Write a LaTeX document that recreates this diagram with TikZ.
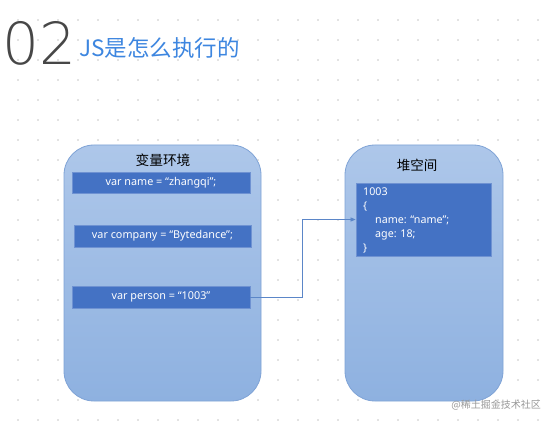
\documentclass[tikz,border=0pt]{standalone}
\usepackage{fontspec}
\setmainfont{Noto Sans CJK SC}
\newfontfamily\latinfont{Noto Sans}
\newfontfamily\thinfont{DejaVu Sans ExtraLight}
\usetikzlibrary{arrows.meta}
\definecolor{titleblue}{HTML}{3D86E0}
\definecolor{outerfill}{HTML}{9FBDE6}
\definecolor{outerfillb}{HTML}{8EB1E0}
\definecolor{outerdraw}{HTML}{7FA3D6}
\definecolor{innerfill}{HTML}{4472C4}
\definecolor{innerdraw}{HTML}{6F92D2}
\definecolor{arrowc}{HTML}{5B86C8}
\begin{document}
\begin{tikzpicture}[x=1pt,y=-1pt,
  outer/.style={draw=outerdraw, line width=0.8pt, top color=outerfill!85!white, bottom color=outerfillb, rounded corners=30pt},
  inner/.style={draw=innerdraw, line width=0.8pt, fill=innerfill, text=white, font=\latinfont\fontsize{10.8}{12}\selectfont, inner sep=0pt},
  conn/.style={draw=arrowc, line width=0.7pt, -{Triangle[length=5pt,width=4pt]}}]
\useasboundingbox (0,0) rectangle (555,425);
\fill[white] (0,0) rectangle (555,425);
\foreach \i in {0,...,26} \foreach \j in {1,...,21}
  \fill[black!22] (18+20*\i,20*\j) circle (0.8pt);
% title
\node[anchor=west, inner sep=0pt, text=black!72, font=\thinfont\fontsize{58}{60}\selectfont] (num) at (2,43) {02};
\node[anchor=west, inner sep=0pt, text=titleblue, font=\fontsize{22.5}{24}\selectfont] (title) at (79,48) {JS是怎么执行的};
% outer boxes
\path[outer] (64,145) rectangle (261,401);
\path[outer] (345,145) rectangle (503,401);
\node[inner sep=0pt, font=\fontsize{13.7}{15}\selectfont] (envlabel) at (163,160) {变量环境};
\node[inner sep=0pt, font=\fontsize{13.5}{15}\selectfont] (heaplabel) at (417,165) {堆空间};
% inner boxes
\node[inner, minimum width=178pt, minimum height=21pt] (v1) at (161,182.5) {var name = “zhangqi”;};
\node[inner, minimum width=177pt, minimum height=22pt] (v2) at (162.5,236) {var company = “Bytedance”;};
\node[inner, minimum width=178pt, minimum height=22pt] (v3) at (161,297) {var person = “1003”};
\node[inner, minimum width=135pt, minimum height=73pt] (obj) at (423.5,219.5) {};
\node[anchor=north west, align=left, inner sep=0pt, text=white, font=\latinfont\fontsize{10.7}{14}\selectfont] (objtext) at (363,187.5) {1003\\\{\\\hspace{12pt}name: “name”;\\\hspace{12pt}age: 18;\\\}};
\coordinate (bend) at (302,297);
\draw[conn] (v3.east) -- (bend) |- (obj.west);
% watermark
\node[anchor=east, inner sep=0pt, text=black!40, font=\fontsize{10}{12}\selectfont] (wm) at (541,405) {@稀土掘金技术社区};
\end{tikzpicture}
\end{document}
